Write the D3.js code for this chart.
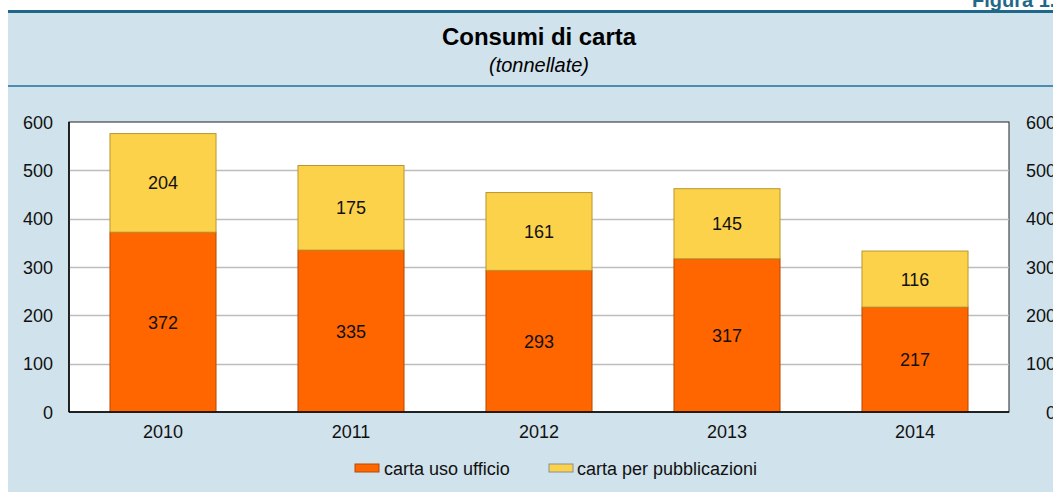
<!DOCTYPE html>
<html>
<head>
<meta charset="utf-8">
<script src="https://cdn.jsdelivr.net/npm/d3@7"></script>
<style>
  body { margin: 0; background: #fff; }
  svg { display: block; font-family: "Liberation Sans", Arial, sans-serif; }
</style>
</head>
<body>
<svg id="chart"></svg>
<script>
// data
var years = ["2010", "2011", "2012", "2013", "2014"];
var ufficio = [372, 335, 293, 317, 217];
var pubblicazioni = [204, 175, 161, 145, 116];
var seriesNames = ["carta uso ufficio", "carta per pubblicazioni"];
var yTicks = [0, 100, 200, 300, 400, 500, 600];

var W = 1053, H = 492;

var svg = d3.select("#chart").attr("width", W).attr("height", H);

// panel background + header rules
svg.append("rect").attr("x", 8).attr("y", 12).attr("width", W).attr("height", H)
    .attr("fill", "#d0e2ec");
svg.append("rect").attr("x", 8).attr("y", 10).attr("width", W).attr("height", 3)
    .attr("fill", "#1f6889");
svg.append("rect").attr("x", 8).attr("y", 85).attr("width", W).attr("height", 2)
    .attr("fill", "#4a8db0");
svg.append("text").attr("x", 972).attr("y", 7)
    .attr("font-size", 20).attr("font-weight", "bold").attr("fill", "#1f6889")
    .text("Figura 1.");

svg.append("text").attr("x", 539).attr("y", 45).attr("text-anchor", "middle")
    .attr("font-size", 24).attr("font-weight", "bold").attr("textLength", 194)
    .text("Consumi di carta");
svg.append("text").attr("x", 539).attr("y", 72).attr("text-anchor", "middle")
    .attr("font-size", 20).attr("font-style", "italic").text("(tonnellate)");

var x0 = 69, x1 = 1009, yTop = 122, yBot = 412;

var x = d3.scaleBand().domain(years).range([x0, x1]).paddingInner(0.436).paddingOuter(0.218);
var y = d3.scaleLinear().domain([0, 600]).range([yBot, yTop]);

// plot area
svg.append("rect").attr("x", x0).attr("y", yTop).attr("width", x1 - x0).attr("height", yBot - yTop)
    .attr("fill", "#fff").attr("stroke", "#222").attr("stroke-width", 1);

svg.append("g").selectAll("line").data(yTicks.filter(d => d > 0 && d < 600)).join("line")
    .attr("x1", x0).attr("x2", x1)
    .attr("y1", d => Math.round(y(d)) + 0.5).attr("y2", d => Math.round(y(d)) + 0.5)
    .attr("stroke", "#bdbdbd").attr("stroke-width", 1.5);

// stacked bars
var stackData = years.map((yr, i) => ({ year: yr, u: ufficio[i], p: pubblicazioni[i] }));
var stack = d3.stack().keys(["u", "p"])(stackData);
var fills = ["#ff6600", "#fdd24b"];
var strokes = ["#b44a00", "#b8952e"];

stack.forEach(function (layer, li) {
    var g = svg.append("g");
    g.selectAll("rect").data(layer).join("rect")
        .attr("x", d => x(d.data.year))
        .attr("width", x.bandwidth())
        .attr("y", d => y(d[1]))
        .attr("height", d => y(d[0]) - y(d[1]))
        .attr("fill", fills[li]).attr("stroke", strokes[li]).attr("stroke-width", 1);
    g.selectAll("text").data(layer).join("text")
        .attr("x", d => x(d.data.year) + x.bandwidth() / 2)
        .attr("y", d => (y(d[0]) + y(d[1])) / 2 + 6.5)
        .attr("text-anchor", "middle").attr("font-size", 18).attr("fill", "#111")
        .text(d => d[1] - d[0]);
});

// axes lines
svg.append("line").attr("x1", x0).attr("x2", x0).attr("y1", yTop).attr("y2", yBot)
    .attr("stroke", "#000").attr("stroke-width", 1.5);
svg.append("line").attr("x1", x0).attr("x2", x1).attr("y1", yBot).attr("y2", yBot)
    .attr("stroke", "#000").attr("stroke-width", 1.5);

// y labels left and right
svg.append("g").selectAll("text").data(yTicks).join("text")
    .attr("x", 53).attr("y", d => y(d) + 6.5).attr("text-anchor", "end")
    .attr("font-size", 18).attr("fill", "#111").text(d => d);
svg.append("g").selectAll("text").data(yTicks).join("text")
    .attr("x", 1056).attr("y", d => y(d) + 6.5).attr("text-anchor", "end")
    .attr("font-size", 18).attr("fill", "#111").text(d => d);

// x labels
svg.append("g").selectAll("text").data(years).join("text")
    .attr("x", d => x(d) + x.bandwidth() / 2).attr("y", 438).attr("text-anchor", "middle")
    .attr("font-size", 18).attr("fill", "#111").text(d => d);

// legend
var legendX = [355, 549];
seriesNames.forEach(function (name, i) {
    svg.append("rect").attr("x", legendX[i]).attr("y", 464).attr("width", 24).attr("height", 8)
        .attr("fill", fills[i]).attr("stroke", i === 0 ? strokes[0] : "#8a8f95").attr("stroke-width", 1);
    svg.append("text").attr("x", legendX[i] + (i === 0 ? 29 : 28)).attr("y", 475)
        .attr("font-size", 18).attr("fill", "#111").text(name);
});
</script>
</body>
</html>
